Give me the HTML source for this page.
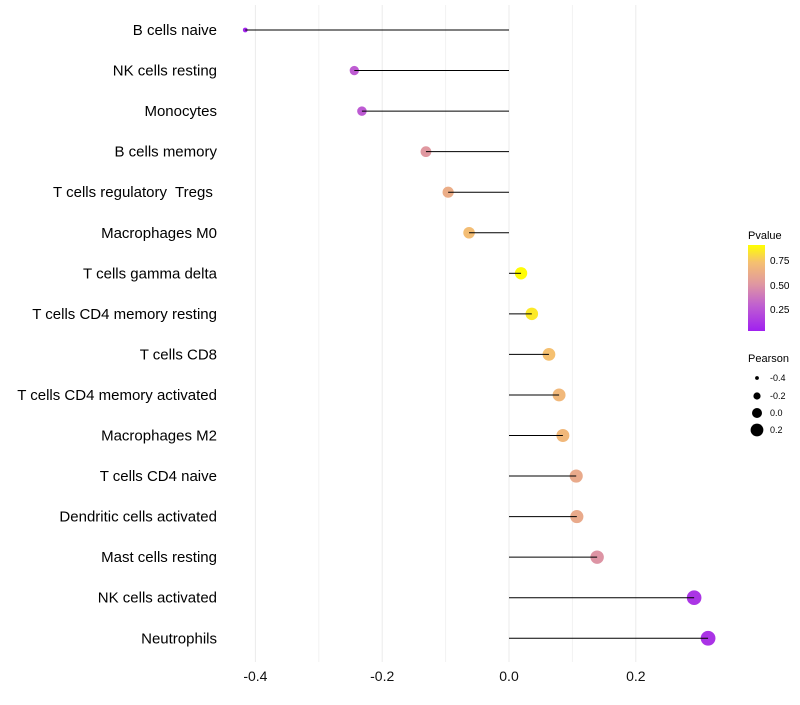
<!DOCTYPE html>
<html><head><meta charset="utf-8"><style>
body{margin:0;background:#fff;font-family:"Liberation Sans",sans-serif}
text{white-space:pre}
</style></head><body>
<svg id="c" width="800" height="700" xmlns="http://www.w3.org/2000/svg">
<defs><linearGradient id="g" x1="0" y1="1" x2="0" y2="0">
<stop offset="0" stop-color="#A020F0"/><stop offset="0.3" stop-color="#C060D0"/><stop offset="0.55" stop-color="#E098A0"/><stop offset="0.8" stop-color="#F5C070"/><stop offset="1" stop-color="#FFFF00"/></linearGradient></defs>
<g id="grid"></g><g id="marks"></g><g id="labels"></g>
<g font-size="10">
<text x="748" y="239" font-size="11">Pvalue</text>
<rect x="748" y="245" width="17" height="86" fill="url(#g)"/>
<text x="770" y="264">0.75</text><text x="770" y="289">0.50</text><text x="770" y="313">0.25</text>
</g>
<g font-size="9">
<text x="748" y="362" font-size="11">Pearson</text>
<circle cx="757" cy="378" r="1.9"/><text x="770" y="381">-0.4</text>
<circle cx="757" cy="396" r="3.6"/><text x="770" y="399">-0.2</text>
<circle cx="757" cy="413" r="5"/><text x="770" y="416">0.0</text>
<circle cx="757" cy="430" r="6.4"/><text x="770" y="433">0.2</text>
</g>
</svg>
<script>
const cells=["B cells naive","NK cells resting","Monocytes","B cells memory","T cells regulatory  Tregs ","Macrophages M0","T cells gamma delta","T cells CD4 memory resting","T cells CD8","T cells CD4 memory activated","Macrophages M2","T cells CD4 naive","Dendritic cells activated","Mast cells resting","NK cells activated","Neutrophils"];
const pearson=[-0.416,-0.244,-0.232,-0.131,-0.096,-0.063,0.019,0.036,0.063,0.079,0.085,0.106,0.107,0.139,0.292,0.314];
const pvalue=[0.03,0.28,0.27,0.55,0.68,0.78,0.99,0.93,0.8,0.75,0.75,0.66,0.66,0.53,0.1,0.09];
const ticks=[-0.4,-0.2,0.0,0.2];
const NS="http://www.w3.org/2000/svg";
const xs=v=>509+v*634;
const ys=i=>30+i*40.55;
function mk(t,a,p){const e=document.createElementNS(NS,t);for(const k in a)e.setAttribute(k,a[k]);p.appendChild(e);return e;}
function lerp(a,b,t){return a.map((v,i)=>Math.round(v+(b[i]-v)*t));}
function col(p){const t=Math.max(0,Math.min(1,p));
 const st=[[0,[160,32,240]],[0.3,[192,96,208]],[0.55,[224,152,160]],[0.8,[245,192,112]],[1,[255,255,0]]];
 for(let i=1;i<st.length;i++)if(t<=st[i][0]){const u=(t-st[i-1][0])/(st[i][0]-st[i-1][0]);return"rgb("+lerp(st[i-1][1],st[i][1],u).join(",")+")";}
 return"rgb(255,255,0)";}
const grid=document.getElementById('grid'),marks=document.getElementById('marks'),lab=document.getElementById('labels');
[-0.3,-0.1,0.1].forEach(v=>{const l=mk('line',{x1:xs(v),x2:xs(v),y1:5,y2:662,stroke:'#f2f2f2','stroke-width':1},grid);

});
ticks.forEach(v=>{const l=mk('line',{x1:xs(v),x2:xs(v),y1:5,y2:662,stroke:'#ebebeb','stroke-width':1},grid);


const t=mk('text',{x:xs(v),y:681,'text-anchor':'middle','font-size':14,fill:'#111'},lab);t.textContent=v.toFixed(1);

});
cells.forEach((c,i)=>{const y=ys(i);
const t=mk('text',{x:217,y:y+5,'text-anchor':'end','font-size':15,fill:'#000'},lab);t.textContent=c;


const d=Math.max(0,pearson[i]+0.42);
const p=mk('circle',{cx:xs(pearson[i]),cy:y,r:2+6.3*Math.sqrt(d),fill:col(pvalue[i])},marks);


const l=mk('line',{x1:xs(0),x2:xs(pearson[i]),y1:y,y2:y,stroke:'#000','stroke-width':1},marks);

});
</script>
</body></html>
